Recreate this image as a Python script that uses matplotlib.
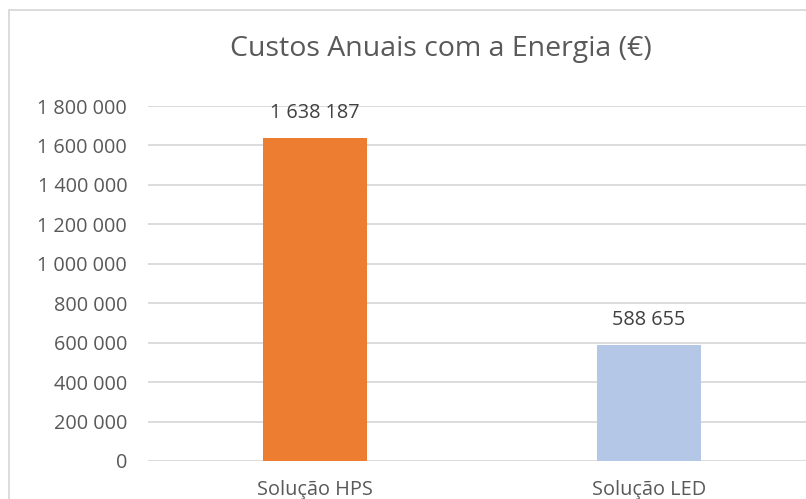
import matplotlib
matplotlib.use("Agg")
import matplotlib.pyplot as plt
from matplotlib.patches import Rectangle
from matplotlib.ticker import FuncFormatter, MultipleLocator

categories = ["Solução HPS", "Solução LED"]
values = [1638187, 588655]
colors = ["#ED7D31", "#B4C7E7"]
title = "Custos Anuais com a Energia (€)"

def fmt(v):
    return f"{int(round(v)):,}".replace(",", " ")

plt.rcParams['font.family'] = ['Open Sans', 'DejaVu Sans']

fig = plt.figure(figsize=(8.06, 4.99), dpi=100)
# axes extends past right edge (reference is cropped)
ax = fig.add_axes([148/806, 38/499, 668/806, 355/499])

x = list(range(len(categories)))
ax.bar(x, values, width=0.314, color=colors, zorder=3)
ax.set_xlim(-0.5, 1.5)
ax.set_ylim(0, 1800000)
ax.yaxis.set_major_locator(MultipleLocator(200000))
ax.yaxis.set_major_formatter(FuncFormatter(lambda v, p: fmt(v)))
ax.grid(axis='y', color='#D9D9D9', linewidth=1.3, zorder=0)
for s in ax.spines.values():
    s.set_visible(False)
ax.tick_params(axis='both', length=0, colors='#595959', labelsize=14.3)
ax.tick_params(axis='y', pad=15)
ax.tick_params(axis='x', pad=14)
ax.set_xticks(x)
ax.set_xticklabels(categories)

for xi, v in zip(x, values):
    ax.annotate(fmt(v), (xi, v), xytext=(0, 14), textcoords='offset points',
                ha='center', va='baseline', fontsize=14.3, color='#404040')

fig.text(441/806, 1 - 49/499, title, ha='center', va='center',
         fontsize=20.5, color='#595959', fontweight='normal')

# chart border (cropped at right and bottom)
fig.add_artist(Rectangle((9/806, -0.1), 1.2, 1 - 10/499 + 0.1,
                         transform=fig.transFigure, fill=False,
                         edgecolor='#D9D9D9', linewidth=1.3))

fig.savefig("out.png", dpi=100)
